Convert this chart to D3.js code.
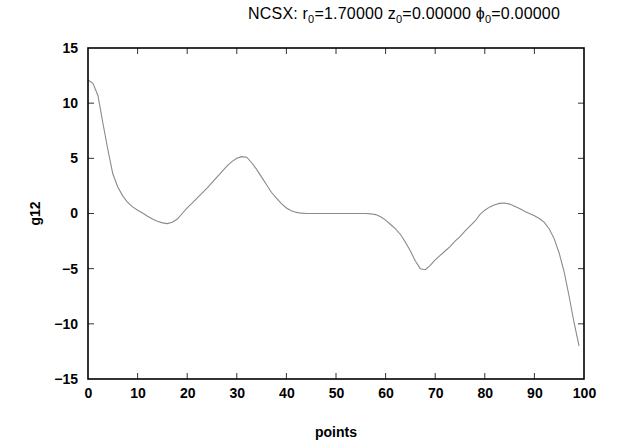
<!DOCTYPE html>
<html>
<head>
<meta charset="utf-8">
<script src="https://cdn.jsdelivr.net/npm/d3@7"></script>
<style>
  html, body { margin: 0; padding: 0; background: #fff; }
  svg text { font-family: "Liberation Sans", Arial, Helvetica, sans-serif; fill: #000; }
</style>
</head>
<body>
<svg id="chart" width="632" height="443"></svg>
<script>
// g12 metric component sampled along the NCSX cross-section
const points = d3.range(0, 100);
const g12 = [
  12.1, 11.8, 10.7, 8.2, 5.8, 3.6, 2.4, 1.6, 1.0, 0.6,
  0.3, 0.05, -0.25, -0.5, -0.7, -0.85, -0.92, -0.8, -0.5, 0.0,
  0.5, 0.95, 1.4, 1.85, 2.3, 2.8, 3.3, 3.8, 4.3, 4.7,
  5.0, 5.15, 5.1, 4.6, 4.0, 3.3, 2.6, 1.9, 1.4, 0.9,
  0.5, 0.25, 0.1, 0.03, 0.0, 0.0, 0.0, 0.0, 0.0, 0.0,
  0.0, 0.0, 0.0, 0.0, 0.0, 0.0, 0.0, -0.03, -0.1, -0.3,
  -0.6, -1.0, -1.4, -1.9, -2.6, -3.4, -4.3, -5.0, -5.1, -4.7,
  -4.2, -3.8, -3.4, -3.0, -2.5, -2.1, -1.6, -1.15, -0.7, -0.1,
  0.3, 0.6, 0.8, 0.92, 0.95, 0.85, 0.65, 0.45, 0.2, 0.0,
  -0.2, -0.45, -0.8, -1.4, -2.3, -3.6, -5.3, -7.5, -9.9, -12.0
];
const xTicks = [0, 10, 20, 30, 40, 50, 60, 70, 80, 90, 100];
const yTicks = [-15, -10, -5, 0, 5, 10, 15];
const xDomain = [0, 100];
const yDomain = [-15, 15];

const svg = d3.select("#chart");
const margin = { left: 88, right: 48, top: 48, bottom: 64 };
const W = 632, H = 443;

const x = d3.scaleLinear().domain(xDomain).range([margin.left, W - margin.right]);
const y = d3.scaleLinear().domain(yDomain).range([H - margin.bottom, margin.top]);

const tickLen = 6;
const inner = xTicks.filter(t => t > xDomain[0] && t < xDomain[1]);
const innerY = yTicks.filter(t => t > yDomain[0] && t < yDomain[1]);

// Inward ticks on all four sides
const tickG = svg.append("g").attr("stroke", "#333").attr("stroke-width", 1);
inner.forEach(t => {
  tickG.append("line").attr("x1", x(t)).attr("x2", x(t)).attr("y1", y(-15)).attr("y2", y(-15) - tickLen);
  tickG.append("line").attr("x1", x(t)).attr("x2", x(t)).attr("y1", y(15)).attr("y2", y(15) + tickLen);
});
innerY.forEach(t => {
  tickG.append("line").attr("x1", x(0)).attr("x2", x(0) + tickLen).attr("y1", y(t)).attr("y2", y(t));
  tickG.append("line").attr("x1", x(100)).attr("x2", x(100) - tickLen).attr("y1", y(t)).attr("y2", y(t));
});

// Tick labels via axis generators (lines hidden)
const xAxis = svg.append("g")
  .attr("transform", `translate(0,${y(-15)})`)
  .call(d3.axisBottom(x).tickValues(xTicks).tickSize(0).tickPadding(9).tickFormat(d3.format("d")));
const yAxis = svg.append("g")
  .attr("transform", `translate(${x(0)},0)`)
  .call(d3.axisLeft(y).tickValues(yTicks).tickSize(0).tickPadding(10).tickFormat(d3.format("d")));
[xAxis, yAxis].forEach(a => {
  a.select(".domain").remove();
  a.selectAll("text").attr("font-size", 14).attr("font-family", "Liberation Sans, Arial, sans-serif")
    .attr("font-weight", "bold").attr("fill", "#111");
});

// Data curve
const line = d3.line().x((d, i) => x(points[i])).y(d => y(d));
svg.append("path")
  .datum(g12)
  .attr("fill", "none")
  .attr("stroke", "#8a8a8a")
  .attr("stroke-width", 1.1)
  .attr("d", line);

// Frame
svg.append("rect")
  .attr("x", x(0)).attr("y", y(15))
  .attr("width", x(100) - x(0)).attr("height", y(-15) - y(15))
  .attr("fill", "none").attr("stroke", "#000").attr("stroke-width", 1.6);

// Title
const title = svg.append("text")
  .attr("x", 248).attr("y", 19)
  .attr("text-anchor", "start").attr("font-size", 16).attr("letter-spacing", 0.2).attr("fill", "#111");
title.append("tspan").text("NCSX: r");
title.append("tspan").attr("font-size", 11).attr("dy", 4).text("0");
title.append("tspan").attr("dy", -4).text("=1.70000 z");
title.append("tspan").attr("font-size", 11).attr("dy", 4).text("0");
title.append("tspan").attr("dy", -4).text("=0.00000 \u03d5");
title.append("tspan").attr("font-size", 11).attr("dy", 4).text("0");
title.append("tspan").attr("dy", -4).text("=0.00000");

// Axis titles
svg.append("text")
  .attr("x", (x(0) + x(100)) / 2).attr("y", 437)
  .attr("text-anchor", "middle").attr("font-size", 14).attr("font-weight", "bold").attr("fill", "#111")
  .text("points");
svg.append("text")
  .attr("transform", `translate(40,${(y(15) + y(-15)) / 2}) rotate(-90)`)
  .attr("text-anchor", "middle").attr("font-size", 14).attr("font-weight", "bold").attr("fill", "#111")
  .text("g12");
</script>
</body>
</html>
